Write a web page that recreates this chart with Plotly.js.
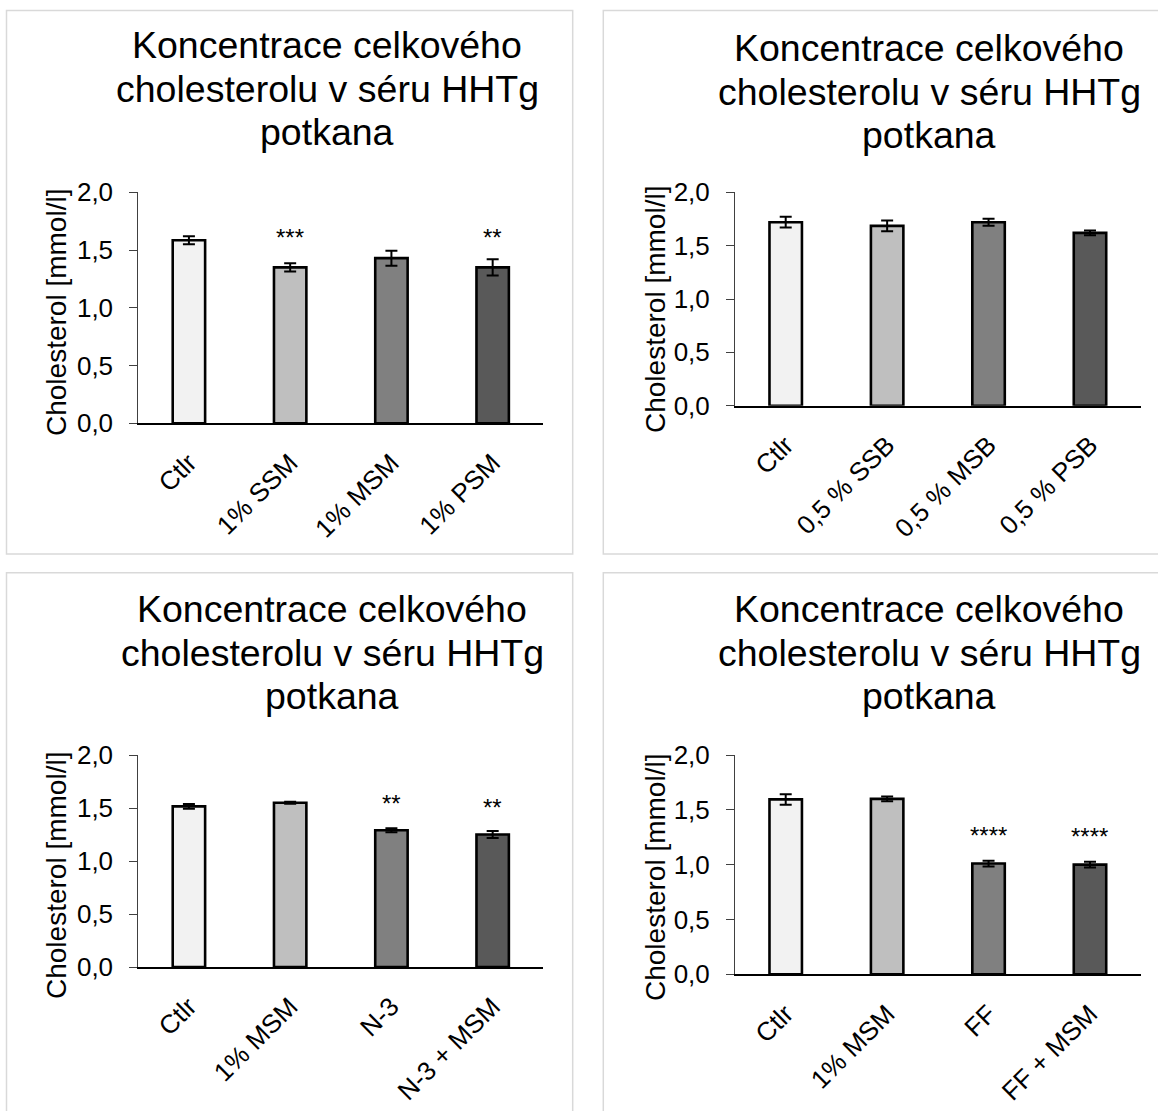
<!DOCTYPE html>
<html>
<head>
<meta charset="utf-8">
<script src="https://cdn.plot.ly/plotly-3.0.1.min.js"></script>
<style>html,body{margin:0;padding:0;background:#fff;}#chart{width:1158px;height:1111px;}</style>
</head>
<body>
<div id="chart"></div>
<script>
// ---- data ----
const cats1 = ['Ctlr', '1% SSM', '1% MSM', '1% PSM'];
const vals1 = [1.585, 1.35, 1.43, 1.35];
const errs1 = [0.035, 0.035, 0.065, 0.07];
const sig1 = ['', '***', '', '**'];

const cats2 = ['Ctlr', '0,5 % SSB', '0,5 % MSB', '0,5 % PSB'];
const vals2 = [1.72, 1.685, 1.72, 1.62];
const errs2 = [0.05, 0.05, 0.033, 0.022];
const sig2 = ['', '', '', ''];

const cats3 = ['Ctlr', '1% MSM', 'N-3', 'N-3 + MSM'];
const vals3 = [1.515, 1.55, 1.29, 1.25];
const errs3 = [0.022, 0.01, 0.018, 0.033];
const sig3 = ['', '', '**', '**'];

const cats4 = ['Ctlr', '1% MSM', 'FF', 'FF + MSM'];
const vals4 = [1.595, 1.6, 1.01, 1.0];
const errs4 = [0.048, 0.022, 0.026, 0.026];
const sig4 = ['', '', '****', '****'];

const titleLines = ['Koncentrace celkového', 'cholesterolu v séru HHTg', 'potkana'];
const yTitle = 'Cholesterol [mmol/l]';
const yTicks = [0, 0.5, 1.0, 1.5, 2.0];

// ---- layout helpers ----
const W = 1158, H = 1111;
const px = x => x / W;
const py = y => 1 - y / H;
const FONT = 'Liberation Sans, Arial, sans-serif';
const barColors = ['#f2f2f2', '#bfbfbf', '#808080', '#595959'];

const panels = [
  {cats: cats1, vals: vals1, errs: errs1, sig: sig1, x0: 138.3, x1: 543.3, y0: 192.3, y1: 423.3,
   box: [6.5, 10.5, 572.7, 554], tx: 327, tMid: 45, ytx: 56, yty: 313},
  {cats: cats2, vals: vals2, errs: errs2, sig: sig2, x0: 735, x1: 1140.7, y0: 192.3, y1: 405.7,
   box: [603.3, 10.5, 1175, 554], tx: 929, tMid: 48, ytx: 655, yty: 310},
  {cats: cats3, vals: vals3, errs: errs3, sig: sig3, x0: 138.3, x1: 543.3, y0: 755, y1: 967,
   box: [6.5, 572.7, 572.7, 1130], tx: 332, tMid: 609, ytx: 56, yty: 876},
  {cats: cats4, vals: vals4, errs: errs4, sig: sig4, x0: 735, x1: 1140.7, y0: 755, y1: 974.3,
   box: [603.3, 572.7, 1175, 1130], tx: 929, tMid: 609, ytx: 655, yty: 878}
];

const traces = [];
const layout = {
  width: W, height: H,
  margin: {l: 0, r: 0, t: 0, b: 0},
  paper_bgcolor: '#ffffff',
  plot_bgcolor: 'rgba(0,0,0,0)',
  showlegend: false,
  separators: ', ',
  font: {family: FONT, color: '#000'},
  shapes: [],
  annotations: []
};

panels.forEach((p, i) => {
  const n = i === 0 ? '' : String(i + 1);
  const xa = 'x' + n, ya = 'y' + n;
  traces.push({
    type: 'bar',
    x: p.cats,
    y: p.vals,
    xaxis: xa, yaxis: ya,
    width: 0.32,
    marker: {color: barColors, line: {color: '#000', width: 2.6}},
    error_y: {type: 'data', array: p.errs, visible: true, color: '#000', thickness: 2, width: 6},
    hoverinfo: 'skip'
  });
  layout['xaxis' + n] = {
    domain: [px(p.x0), px(p.x1)],
    anchor: ya,
    type: 'category',
    range: [-0.5, 3.5],
    showline: true, linecolor: '#000', linewidth: 2,
    ticks: '', showgrid: false, zeroline: false,
    tickangle: -45,
    tickfont: {family: FONT, size: 26, color: '#000'},
    ticklabelstandoff: 12,
    fixedrange: true
  };
  layout['yaxis' + n] = {
    domain: [py(p.y1), py(p.y0)],
    anchor: xa,
    range: [0, 2],
    tickvals: yTicks,
    tickformat: '.1f',
    showline: true, linecolor: '#404040', linewidth: 1,
    ticks: 'outside', ticklen: 8, tickcolor: '#404040', tickwidth: 1,
    showgrid: false, zeroline: false,
    tickfont: {family: FONT, size: 26, color: '#000'},
    ticklabelstandoff: 11,
    fixedrange: true
  };
  // panel border
  layout.shapes.push({
    type: 'rect', xref: 'paper', yref: 'paper',
    x0: px(p.box[0]), x1: px(p.box[2]), y0: py(p.box[3]), y1: py(p.box[1]),
    line: {color: '#d9d9d9', width: 1.5}, fillcolor: 'rgba(0,0,0,0)', layer: 'below'
  });
  // title lines
  titleLines.forEach((t, k) => {
    layout.annotations.push({
      xref: 'paper', yref: 'paper',
      x: px(p.tx), y: py(p.tMid + k * 43.5),
      xanchor: 'center', yanchor: 'middle',
      text: t, showarrow: false,
      font: {family: FONT, size: 37.5, color: '#000'}
    });
  });
  // y axis title
  layout.annotations.push({
    xref: 'paper', yref: 'paper',
    x: px(p.ytx), y: py(p.yty),
    xanchor: 'center', yanchor: 'middle',
    text: yTitle, textangle: -90, showarrow: false,
    font: {family: FONT, size: 28, color: '#000'}
  });
  // significance marks
  p.sig.forEach((s, k) => {
    if (!s) return;
    layout.annotations.push({
      xref: xa, yref: ya,
      x: p.cats[k], y: p.vals[k] + 0.285,
      xanchor: 'center', yanchor: 'middle', yshift: -3,
      text: s, showarrow: false,
      font: {family: FONT, size: 24, color: '#000'}
    });
  });
});

Plotly.newPlot('chart', traces, layout, {staticPlot: true, displayModeBar: false});
</script>
</body>
</html>
